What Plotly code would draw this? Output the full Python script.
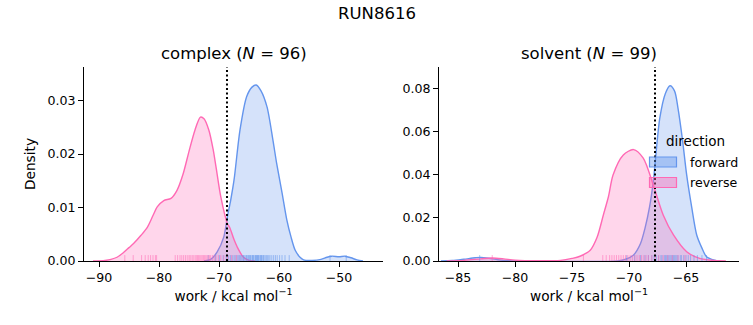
import plotly.graph_objects as go

# ---------------- data ----------------
fig_title = "RUN8616"
panel_titles = ["complex (<i>N</i> = 96)", "solvent (<i>N</i> = 99)"]
x_label = "work / kcal mol<sup>−1</sup>"
y_label = "Density"
legend_title = "direction"
directions = ["forward", "reverse"]

# KDE curves, complex phase
cx_fwd_x = [-72.5, -71.4, -70.3, -69.2, -68.6, -68.05, -67.5, -66.5, -65.4, -64.5, -63.8, -63.0, -62.0,
            -61.0, -60.4, -59.5, -58.7, -58.0, -57.3, -56.5, -55.9, -54.5, -53.0, -52.0, -51.2, -50.0,
            -49.0, -48.0, -47.0, -46.0]
cx_fwd_d = [0.0, 0.0003, 0.0017, 0.0045, 0.0083, 0.0114, 0.0151, 0.0245, 0.0307, 0.0325, 0.0329, 0.0318,
            0.0288, 0.0225, 0.0183, 0.0128, 0.0077, 0.0045, 0.0020, 0.0007, 0.0002, 0.0001, 0.0003, 0.0007,
            0.0009, 0.0008, 0.0009, 0.0006, 0.0002, 0.0]
cx_rev_x = [-91.0, -89.0, -88.0, -87.0, -86.0, -85.0, -84.2, -83.0, -81.9, -81.0, -80.3, -79.2, -78.0,
            -77.0, -76.0, -75.0, -74.0, -73.1, -72.5, -71.7, -71.0, -70.5, -69.7, -68.6, -68.2, -67.5,
            -67.0, -66.0, -65.0, -64.0]
cx_rev_d = [0.0, 0.0001, 0.0003, 0.0007, 0.0015, 0.0025, 0.0033, 0.0048, 0.0064, 0.0085, 0.0101, 0.0113,
            0.0117, 0.0132, 0.0162, 0.0205, 0.0245, 0.0269, 0.0266, 0.0245, 0.0210, 0.0176, 0.0120, 0.0070,
            0.0062, 0.0040, 0.0027, 0.0008, 0.0001, 0.0]

# KDE curves, solvent phase
sv_fwd_x = [-86.5, -85.5, -84.5, -83.5, -83.0, -82.3, -81.5, -80.5, -79.0, -71.0, -70.3, -69.6, -69.0,
            -68.6, -68.2, -67.87, -67.3, -66.8, -66.4, -66.0, -65.7, -65.3, -64.94, -64.5, -64.06, -63.6,
            -63.2, -62.5, -62.0]
sv_fwd_d = [0.0, 0.0002, 0.0008, 0.0015, 0.0017, 0.0013, 0.0006, 0.0001, 0.0, 0.0, 0.0008, 0.0028, 0.0080,
            0.0152, 0.0250, 0.0369, 0.0664, 0.0780, 0.0815, 0.0790, 0.0710, 0.0560, 0.0400, 0.0250, 0.0121,
            0.0060, 0.0020, 0.0004, 0.0]
sv_rev_x = [-86.0, -84.5, -83.0, -82.0, -81.0, -80.0, -78.0, -76.0, -75.0, -74.3, -73.4, -72.8, -72.25,
            -71.8, -71.4, -70.5, -69.6, -68.75, -67.87, -67.0, -66.1, -64.94, -63.8, -62.5, -61.5]
sv_rev_d = [0.0, 0.0003, 0.0010, 0.0014, 0.0010, 0.0004, 0.0001, 0.0003, 0.0012, 0.0022, 0.0050, 0.0110,
            0.0214, 0.0300, 0.0400, 0.0493, 0.0518, 0.0478, 0.0353, 0.0214, 0.0121, 0.0043, 0.0012, 0.0002,
            0.0]

# individual work values (rug)
cx_fwd_w = [-71.8, -70.6, -69.9, -69.3, -68.8, -68.4, -68.1, -67.8, -67.5, -67.3, -67.0, -66.8, -66.6,
            -66.4, -66.2, -66.0, -65.9, -65.7, -65.5, -65.4, -65.2, -65.1, -64.9, -64.8, -64.7, -64.5,
            -64.4, -64.3, -64.2, -64.0, -63.9, -63.8, -63.7, -63.6, -63.5, -63.4, -63.3, -63.1, -63.0,
            -62.9, -62.8, -62.6, -62.5, -62.3, -62.1, -61.9, -61.7, -61.5, -61.2, -60.9, -60.6, -60.3,
            -59.9, -59.5, -59.0, -58.3, -51.5, -48.8]
cx_rev_w = [-85.7, -84.3, -82.9, -82.3, -81.8, -81.4, -81.0, -80.6, -80.4, -77.3, -76.9, -76.5, -76.2,
            -75.9, -75.6, -75.3, -75.0, -74.8, -74.5, -74.3, -74.0, -73.8, -73.6, -73.4, -73.2, -73.0,
            -72.8, -72.6, -72.4, -72.2, -72.0, -71.8, -71.6, -71.4, -71.1, -70.8, -70.5, -70.1, -69.7,
            -69.2, -68.6, -67.9, -67.1]
sv_fwd_w = [-83.1, -70.2, -69.5, -69.0, -68.6, -68.3, -68.0, -67.8, -67.6, -67.4, -67.2, -67.1, -66.9,
            -66.8, -66.7, -66.6, -66.5, -66.4, -66.3, -66.2, -66.1, -66.0, -65.9, -65.8, -65.7, -65.5,
            -65.4, -65.2, -65.0, -64.8, -64.6, -64.3, -64.0, -63.6, -63.2]
sv_rev_w = [-82.0, -74.0, -72.3, -72.0, -71.7, -71.5, -71.3, -71.1, -70.9, -70.7, -70.5, -70.3, -70.1,
            -69.9, -69.7, -69.5, -69.3, -69.1, -68.9, -68.7, -68.5, -68.3, -68.0, -67.7, -67.4, -67.0,
            -66.6, -66.2, -65.7, -65.1]

# dotted reference lines (free energy estimate)
cx_vline = -68.67
sv_vline = -67.72

cx_xticks = [-90, -80, -70, -60, -50]
cx_yticks = [0.00, 0.01, 0.02, 0.03]
sv_xticks = [-85, -80, -75, -70, -65]
sv_yticks = [0.00, 0.02, 0.04, 0.06, 0.08]

# ---------------- styling ----------------
W, H = 753, 325
FONT = "DejaVu Sans"
TICK_FS, LABEL_FS, TITLE_FS = 12.6, 13.7, 16.5
col = {"forward": (100, 149, 237), "reverse": (255, 105, 180)}


def rgba(c, a):
    return f"rgba({c[0]},{c[1]},{c[2]},{a})"


fig = go.Figure()

panels = [
    dict(xa="x", ya="y", ra="y3",
         curves={"forward": (cx_fwd_x, cx_fwd_d), "reverse": (cx_rev_x, cx_rev_d)},
         rug={"forward": cx_fwd_w, "reverse": cx_rev_w}, vline=cx_vline),
    dict(xa="x2", ya="y2", ra="y4",
         curves={"forward": (sv_fwd_x, sv_fwd_d), "reverse": (sv_rev_x, sv_rev_d)},
         rug={"forward": sv_fwd_w, "reverse": sv_rev_w}, vline=sv_vline),
]

for p in panels:
    for d in directions:
        xs, ds = p["curves"][d]
        fig.add_trace(go.Scatter(
            x=xs, y=ds, mode="lines", line=dict(color=rgba(col[d], 1), width=1.4, shape="spline",
                                                smoothing=0.8),
            fill="tozeroy", fillcolor=rgba(col[d], 0.27), name=d,
            showlegend=False, xaxis=p["xa"], yaxis=p["ya"], hoverinfo="skip"))
    for d in directions:
        w = p["rug"][d]
        fig.add_trace(go.Scatter(
            x=w, y=[0.0125] * len(w), mode="markers",
            marker=dict(symbol="line-ns", size=5, color=rgba(col[d], 0.55),
                        line=dict(color=rgba(col[d], 0.55), width=1)),
            showlegend=False, xaxis=p["xa"], yaxis=p["ra"], hoverinfo="skip"))

# geometry in pixels
L1, R1 = 84, 383
L2, R2 = 439, 739
TOP, BOT = 67, 261
dom_x1 = [L1 / W, R1 / W]
dom_x2 = [L2 / W, R2 / W]
dom_y = [1 - BOT / H, 1 - TOP / H]

axis_common = dict(showline=True, linecolor="black", linewidth=1, ticks="outside", ticklen=5,
                   tickwidth=1, tickcolor="black", showgrid=False, zeroline=False, mirror=False,
                   automargin=False, tickfont=dict(family=FONT, size=TICK_FS, color="black"))

fig.update_layout(
    width=W, height=H, margin=dict(l=0, r=0, t=0, b=0),
    paper_bgcolor="white", plot_bgcolor="white",
    font=dict(family=FONT, size=13, color="black"),
    xaxis=dict(domain=dom_x1, range=[-92.5, -42.67], tickvals=cx_xticks, anchor="y",
               title=dict(text=x_label, standoff=7, font=dict(size=LABEL_FS)), **axis_common),
    yaxis=dict(domain=dom_y, range=[0, 0.03626], tickvals=cx_yticks, tickformat=".2f", anchor="x",
               title=dict(text=y_label, standoff=8, font=dict(size=LABEL_FS)), **axis_common),
    xaxis2=dict(domain=dom_x2, range=[-86.67, -60.35], tickvals=sv_xticks, anchor="y2",
                title=dict(text=x_label, standoff=7, font=dict(size=LABEL_FS)), **axis_common),
    yaxis2=dict(domain=dom_y, range=[0, 0.0902], tickvals=sv_yticks, tickformat=".2f", anchor="x2",
                **axis_common),
    yaxis3=dict(overlaying="y", anchor="x", range=[0, 1], visible=False),
    yaxis4=dict(overlaying="y2", anchor="x2", range=[0, 1], visible=False),
    showlegend=False,
)

for p in panels:
    fig.add_shape(type="line", xref=p["xa"], yref=p["ya"] + " domain", x0=p["vline"], x1=p["vline"],
                  y0=0, y1=1, line=dict(color="black", width=2, dash="2px,2.5px"), layer="above")

fig.add_annotation(text=fig_title, xref="paper", yref="paper", x=0.5, y=1 - 13 / H,
                   xanchor="center", yanchor="middle", showarrow=False, font=dict(size=TITLE_FS))
for t, dx in zip(panel_titles, [dom_x1, dom_x2]):
    fig.add_annotation(text=t, xref="paper", yref="paper", x=(dx[0] + dx[1]) / 2, y=1 - 54 / H,
                       xanchor="center", yanchor="middle", showarrow=False, font=dict(size=TITLE_FS))

# legend (drawn in paper pixels, like the seaborn legend in the right panel)
fig.add_annotation(text=legend_title, xref="paper", yref="paper", x=695 / W, y=1 - 141 / H,
                   xanchor="center", yanchor="middle", showarrow=False, font=dict(size=13.5))
for i, d in enumerate(directions):
    yc = 162 + 20.5 * i
    fig.add_shape(type="rect", xref="paper", yref="paper", x0=649.5 / W, x1=676.5 / W,
                  y0=1 - (yc - 5) / H, y1=1 - (yc + 5) / H,
                  line=dict(color=rgba(col[d], 1), width=1.2), fillcolor=rgba(col[d], 0.42))
    fig.add_annotation(text=d, xref="paper", yref="paper", x=688 / W, y=1 - yc / H,
                       xanchor="left", yanchor="middle", showarrow=False, font=dict(size=TICK_FS))

fig.write_html("out.html")
